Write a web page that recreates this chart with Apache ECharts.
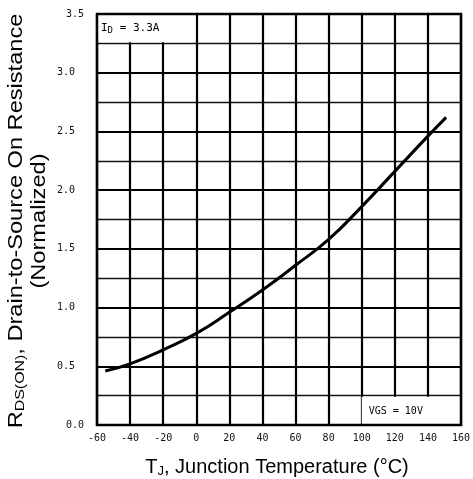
<!DOCTYPE html>
<html><head><meta charset="utf-8">
<script src="https://cdn.jsdelivr.net/npm/echarts@6/dist/echarts.min.js"></script>
<style>html,body{margin:0;padding:0;background:#fff}#c{width:473px;height:479px}</style>
</head><body><div id="c"></div>
<script>
// Data
var tempC = [-55, -40, -20, 0, 20, 40, 60, 80, 100, 120, 140, 151];
var rdsNorm = [0.46, 0.52, 0.64, 0.78, 0.96, 1.15, 1.36, 1.58, 1.86, 2.16, 2.46, 2.62];
var xTicks = [-60, -40, -20, 0, 20, 40, 60, 80, 100, 120, 140, 160];
var yTicks = [0.0, 0.5, 1.0, 1.5, 2.0, 2.5, 3.0, 3.5];
var noteId = {from: [-60, 3.26], to: [-3, 3.5], text: '{n|I}{s|D}{n| = 3.3A}'};
var noteVgs = {from: [100, 0], to: [160, 0.24], text: 'VGS = 10V'};
var yTitle = '{n|R}{s|DS(ON)}{n|, Drain-to-Source On Resistance}\n{n|(Normalized)}';

var G = {left: 97, top: 14, width: 364, height: 411};
var chart = echarts.init(document.getElementById('c'));
var mono = '"DejaVu Sans Mono", monospace';
var sans = '"Liberation Sans", Arial, sans-serif';
chart.setOption({
  animation: false,
  backgroundColor: '#fff',
  grid: {left: G.left, top: G.top, width: G.width, height: G.height, containLabel: false, outerBoundsMode: 'none'},
  xAxis: {
    type: 'value', min: xTicks[0], max: xTicks[xTicks.length - 1], interval: 20,
    axisLine: {show: false}, axisTick: {show: false},
    axisLabel: {fontFamily: mono, fontSize: 10, color: '#111', margin: 8,
      alignMinLabel: 'center', alignMaxLabel: 'center'},
    splitLine: {show: true, lineStyle: {color: '#000', width: 2.2}},
    name: 'T{s|J}, Junction Temperature (°C)', nameLocation: 'middle', nameGap: 31,
    nameTextStyle: {fontFamily: sans, fontSize: 20, color: '#000', padding: [0, 4, 0, 0],
      rich: {s: {fontFamily: sans, fontSize: 13, color: '#000', padding: [9, 0, 0, 0]}}}
  },
  yAxis: {
    type: 'value', min: yTicks[0], max: yTicks[yTicks.length - 1], interval: 0.5,
    axisLine: {show: false}, axisTick: {show: false},
    axisLabel: {fontFamily: mono, fontSize: 10, color: '#111', margin: 22,
      alignMinLabel: 'center', alignMaxLabel: 'center',
      formatter: function (v) { return v.toFixed(1); }},
    splitLine: {show: true, lineStyle: {color: '#000', width: 2.2}},
    minorTick: {show: false, splitNumber: 2},
    minorSplitLine: {show: true, lineStyle: {color: '#111', width: 1.3}}
  },
  series: [{
    type: 'line', data: tempC.map(function (t, i) { return [t, rdsNorm[i]]; }),
    smooth: true, symbol: 'none', lineStyle: {color: '#000', width: 3},
    markArea: {
      silent: true,
      itemStyle: {color: '#fff', borderWidth: 0},
      data: [
        [{coord: noteId.from, label: {show: true, position: 'insideLeft', formatter: noteId.text, distance: 4,
           rich: {n: {fontFamily: mono, fontSize: 11, color: '#000'}, s: {fontFamily: mono, fontSize: 9, color: '#000', padding: [6, 0, 0, 0]}}}},
         {coord: noteId.to}],
        [{coord: noteVgs.from, label: {show: true, position: 'insideLeft', distance: 7, formatter: noteVgs.text,
           fontFamily: mono, fontSize: 10, color: '#000'}},
         {coord: noteVgs.to}]
      ]
    }
  }],
  graphic: [
    {type: 'rect', z: 100, shape: {x: G.left, y: G.top, width: G.width, height: G.height},
      style: {fill: 'none', stroke: '#000', lineWidth: 2.5}},
    {type: 'text', x: 28, y: 221, rotation: Math.PI / 2, scaleX: 1.18, z: 100,
      style: {text: yTitle, align: 'center', verticalAlign: 'middle', fill: '#000',
        font: '20px ' + sans, lineHeight: 23,
        rich: {n: {fontFamily: sans, fontSize: 20, fill: '#000', lineHeight: 23},
               s: {fontFamily: sans, fontSize: 13.5, fill: '#000', lineHeight: 23, padding: [7, 0, 0, 0]}}}}
  ]
});
</script></body></html>
